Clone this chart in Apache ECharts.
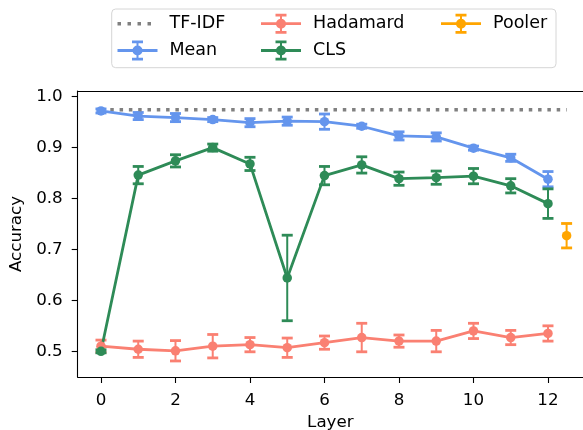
<!DOCTYPE html>
<html lang="en">
<head>
    <meta charset="UTF-8">
    <title>Accuracy by layer</title>
    <script src="https://cdn.jsdelivr.net/npm/echarts@6/dist/echarts.min.js"></script>
    <style>
        html, body { margin: 0; padding: 0; background: #fff; }
    </style>
</head>
<body>
    <div id="main" style="width: 583px;height:430px;"></div>

    <script type="text/javascript">
        // data
        var layers = [0, 1, 2, 3, 4, 5, 6, 7, 8, 9, 10, 11, 12];
        var meanAcc = [0.972, 0.962, 0.959, 0.955, 0.949, 0.952, 0.951, 0.942, 0.923, 0.921, 0.899, 0.880, 0.838];
        var meanStd = [0.004, 0.007, 0.008, 0.004, 0.008, 0.008, 0.015, 0.004, 0.008, 0.008, 0.004, 0.007, 0.015];
        var hadamardAcc = [0.510, 0.504, 0.501, 0.510, 0.513, 0.507, 0.517, 0.527, 0.520, 0.520, 0.540, 0.527, 0.535];
        var hadamardStd = [0.012, 0.016, 0.020, 0.023, 0.014, 0.019, 0.013, 0.028, 0.012, 0.021, 0.015, 0.014, 0.015];
        var clsAcc = [0.500, 0.846, 0.874, 0.900, 0.868, 0.644, 0.845, 0.866, 0.839, 0.841, 0.844, 0.825, 0.790];
        var clsStd = [0.003, 0.017, 0.012, 0.007, 0.013, 0.084, 0.018, 0.016, 0.013, 0.013, 0.015, 0.014, 0.029];
        var poolerX = [12.5];
        var poolerAcc = [0.727];
        var poolerStd = [0.024];
        var tfidfX = [0, 12.5];
        var tfidfAcc = [0.9745, 0.9745];
        var xTicks = [0, 2, 4, 6, 8, 10, 12];
        var yTicks = [0.5, 0.6, 0.7, 0.8, 0.9, 1.0];

        var FONT = 'DejaVu Sans';
        var C_MEAN = '#6495ED', C_HAD = '#FA8072', C_CLS = '#2E8B57', C_POOL = '#FFA500', C_TF = '#808080';

        // legend icons (errorbar glyph and dotted line)
        var ICON_ERR = 'path://M0,8.6H40V11.4H0Z M19,1.5H21V18.5H19Z M14.5,0H25.5V2.8H14.5Z M14.5,17.2H25.5V20H14.5Z M25,10A5,5 0 1 1 15,10A5,5 0 1 1 25,10Z';
        var ICON_DOT = 'path://M0,0L0,0Z M40,20L40,20Z M0,8.3H3.5V11.7H0Z M10,8.3H13.5V11.7H10Z M20,8.3H23.5V11.7H20Z M30,8.3H33.5V11.7H30Z';

        function pairs(xs, ys, es) {
            var res = [];
            for (var i = 0; i < xs.length; i++) {
                res.push(es ? [xs[i], ys[i], es[i]] : [xs[i], ys[i]]);
            }
            return res;
        }

        function errRender(color) {
            return function (params, api) {
                var x = api.value(0), y = api.value(1), e = api.value(2);
                var top = api.coord([x, y + e]);
                var bot = api.coord([x, y - e]);
                var w = 5.5;
                return {
                    type: 'group',
                    children: [
                        {type: 'line', shape: {x1: top[0], y1: top[1], x2: bot[0], y2: bot[1]}, style: {stroke: color, lineWidth: 2}},
                        {type: 'line', shape: {x1: top[0] - w, y1: top[1], x2: top[0] + w, y2: top[1]}, style: {stroke: color, lineWidth: 2.8}},
                        {type: 'line', shape: {x1: bot[0] - w, y1: bot[1], x2: bot[0] + w, y2: bot[1]}, style: {stroke: color, lineWidth: 2.8}}
                    ]
                };
            };
        }

        function errSeries(name, color, xs, ys, es) {
            return {
                name: name,
                type: 'custom',
                renderItem: errRender(color),
                itemStyle: {color: color},
                encode: {x: 0, y: 1},
                data: pairs(xs, ys, es),
                silent: true,
                clip: false
            };
        }

        function lineSeries(name, color, xs, ys) {
            return {
                name: name,
                type: 'line',
                data: pairs(xs, ys),
                symbol: 'circle',
                symbolSize: 9.5,
                showSymbol: true,
                color: color,
                itemStyle: {color: color, borderWidth: 0},
                lineStyle: {color: color, width: 2.8},
                silent: true
            };
        }

        var legendText = {fontFamily: FONT, fontSize: 17.5, color: '#000', lineHeight: 20, padding: [0, 0, 0, 7]};
        function legendCol(left, items) {
            return {
                orient: 'vertical',
                left: left,
                top: 13.7,
                padding: 0,
                itemGap: 6.8,
                itemWidth: 40,
                itemHeight: 20,
                selectedMode: false,
                itemStyle: {borderWidth: 0},
                textStyle: legendText,
                data: items
            };
        }

        var myChart = echarts.init(document.getElementById('main'));

        var option = {
            animation: false,
            backgroundColor: '#fff',
            textStyle: {fontFamily: FONT},
            graphic: [{
                type: 'rect',
                z: 0,
                shape: {x: 111.7, y: 9, width: 444.3, height: 58.7, r: 4},
                style: {fill: '#fff', stroke: '#d6d6d6', lineWidth: 1}
            }],
            legend: [
                legendCol(117.5, [{name: 'TF-IDF', icon: ICON_DOT}, {name: 'Mean', icon: ICON_ERR}]),
                legendCol(261, [{name: 'Hadamard', icon: ICON_ERR}, {name: 'CLS', icon: ICON_ERR}]),
                legendCol(441, [{name: 'Pooler', icon: ICON_ERR}])
            ],
            // the plot runs past the right edge of the picture, so no right spine
            grid: {
                left: 77.7,
                top: 91,
                right: 0,
                height: 286,
                show: false,
                outerBoundsMode: 'none'
            },
            xAxis: [{
                type: 'value',
                min: -0.625,
                max: 12.94,
                name: 'Layer',
                nameLocation: 'middle',
                nameGap: 36,
                nameTextStyle: {fontFamily: FONT, fontSize: 16.7, color: '#000'},
                axisLine: {show: true, onZero: false, lineStyle: {color: '#000', width: 1.1}},
                axisTick: {show: true, customValues: xTicks, length: 6, lineStyle: {color: '#000', width: 1.1}},
                axisLabel: {customValues: xTicks, fontFamily: FONT, fontSize: 16.7, color: '#000', margin: 15},
                splitLine: {show: false}
            }, {
                // top spine only
                type: 'value',
                position: 'top',
                min: -0.625,
                max: 12.94,
                axisLine: {show: true, onZero: false, lineStyle: {color: '#000', width: 1.1}},
                axisTick: {show: false},
                axisLabel: {show: false},
                splitLine: {show: false}
            }],
            yAxis: {
                type: 'value',
                min: 0.4495,
                max: 1.0112,
                name: 'Accuracy',
                nameLocation: 'middle',
                nameGap: 43,
                nameTextStyle: {fontFamily: FONT, fontSize: 16.7, color: '#000'},
                axisLine: {show: true, onZero: false, lineStyle: {color: '#000', width: 1.1}},
                axisTick: {show: true, customValues: yTicks, length: 6, lineStyle: {color: '#000', width: 1.1}},
                axisLabel: {
                    customValues: yTicks,
                    fontFamily: FONT, fontSize: 16.7, color: '#000', margin: 15,
                    formatter: function (v) { return v.toFixed(1); }
                },
                splitLine: {show: false}
            },
            series: [
                {
                    name: 'TF-IDF',
                    type: 'line',
                    data: pairs(tfidfX, tfidfAcc),
                    symbol: 'none',
                    color: C_TF,
                    itemStyle: {color: C_TF},
                    lineStyle: {color: C_TF, width: 3.5, type: [3.5, 5.8], cap: 'butt'},
                    silent: true
                },
                errSeries('Mean err', C_MEAN, layers, meanAcc, meanStd),
                lineSeries('Mean', C_MEAN, layers, meanAcc),
                errSeries('Hadamard err', C_HAD, layers, hadamardAcc, hadamardStd),
                lineSeries('Hadamard', C_HAD, layers, hadamardAcc),
                errSeries('CLS err', C_CLS, layers, clsAcc, clsStd),
                lineSeries('CLS', C_CLS, layers, clsAcc),
                errSeries('Pooler err', C_POOL, poolerX, poolerAcc, poolerStd),
                lineSeries('Pooler', C_POOL, poolerX, poolerAcc)
            ]
        };

        myChart.setOption(option);
    </script>
</body>
</html>
